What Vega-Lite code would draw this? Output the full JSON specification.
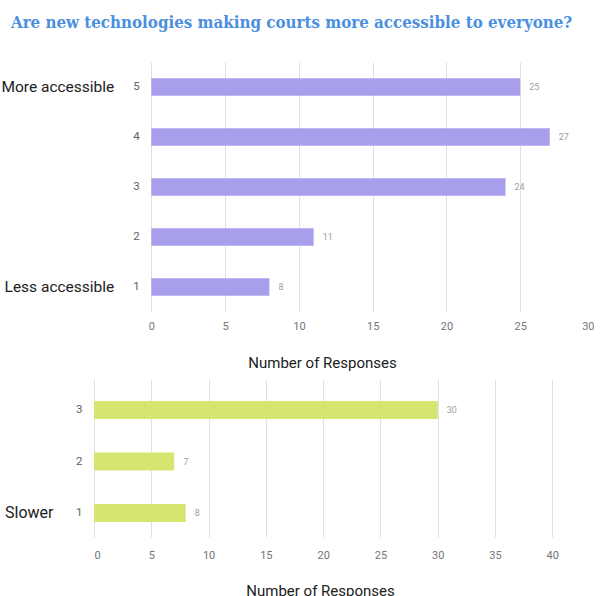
{
  "$schema": "https://vega.github.io/schema/vega-lite/v6.json",
  "background": "white",
  "padding": {"top": 15, "left": 0, "right": 0, "bottom": 0},
  "title": {
    "text": "Are new technologies making courts more accessible to everyone?",
    "anchor": "start",
    "dx": 10,
    "font": "DejaVu Serif Condensed",
    "fontWeight": "bold",
    "fontSize": 16.8,
    "color": "#4a8fe0",
    "offset": 30
  },
  "config": {
    "view": {"stroke": null},
    "axis": {"labelFont": "Roboto", "titleFont": "Roboto"},
    "text": {"font": "Roboto"}
  },
  "spacing": 9,
  "vconcat": [
    {
      "width": 500,
      "height": 250,
      "data": {"values": [
        {"rating": "5", "count": 25},
        {"rating": "4", "count": 27},
        {"rating": "3", "count": 24},
        {"rating": "2", "count": 11},
        {"rating": "1", "count": 8}
      ]},
      "encoding": {
        "x": {
          "field": "count", "type": "quantitative",
          "scale": {"domain": [-3.886, 30], "nice": false},
          "axis": {
            "values": [0, 5, 10, 15, 20, 25, 30],
            "grid": true, "gridColor": "#e0e0e0", "domain": false, "ticks": false,
            "labelPadding": 8, "labelColor": "#757575", "labelFontSize": 11,
            "title": "Number of Responses", "titleFontSize": 15, "titleFontWeight": "normal",
            "titleColor": "#212121", "titleX": 228, "titleY": 50, "titleBaseline": "middle"
          }
        },
        "x2": {"datum": 0},
        "y": {
          "field": "rating", "type": "nominal", "sort": ["5", "4", "3", "2", "1"],
          "scale": {"paddingInner": 0.65, "paddingOuter": 0.325},
          "axis": {
            "orient": "left", "offset": -57.3, "labelPadding": 12, "ticks": false, "domain": false,
            "title": null, "labelColor": "#616161", "labelFontSize": 11.5
          }
        }
      },
      "layer": [
        {"mark": {"type": "bar", "color": "#a89fec"}},
        {
          "mark": {"type": "text", "align": "left", "dx": 9, "fontSize": 9, "color": "#9e9e9e"},
          "encoding": {
            "x2": null,
            "text": {"field": "count", "type": "quantitative"},
            "y": {
              "field": "rating", "type": "nominal", "sort": ["5", "4", "3", "2", "1"],
              "axis": {
                "orient": "left", "offset": -57.3, "labelPadding": 37.5, "ticks": false, "domain": false,
                "title": null, "labelColor": "#212121", "labelFontSize": 15.5,
                "labelExpr": "datum.value == '5' ? 'More accessible' : datum.value == '1' ? 'Less accessible' : ''"
              }
            }
          }
        }
      ],
      "resolve": {"axis": {"y": "independent"}}
    },
    {
      "width": 500,
      "height": 158,
      "data": {"values": [
        {"rating": "3", "count": 30},
        {"rating": "2", "count": 7},
        {"rating": "1", "count": 8}
      ]},
      "encoding": {
        "x": {
          "field": "count", "type": "quantitative",
          "scale": {"domain": [0, 43.64], "nice": false},
          "axis": {
            "values": [0, 5, 10, 15, 20, 25, 30, 35, 40],
            "grid": true, "gridColor": "#e0e0e0", "domain": false, "ticks": false,
            "labelPadding": 12, "labelColor": "#757575", "labelFontSize": 11,
            "title": "Number of Responses", "titleFontSize": 15, "titleFontWeight": "normal",
            "titleColor": "#212121", "titleX": 226, "titleY": 53, "titleBaseline": "middle"
          }
        },
        "x2": {"datum": 0},
        "y": {
          "field": "rating", "type": "nominal", "sort": ["3", "2", "1"],
          "scale": {"paddingInner": 0.65, "paddingOuter": 0.359, "align": 0.595},
          "axis": {
            "orient": "left", "labelPadding": 12, "ticks": false, "domain": false,
            "title": null, "labelColor": "#616161", "labelFontSize": 11.5
          }
        }
      },
      "layer": [
        {"mark": {"type": "bar", "color": "#d5e570"}},
        {
          "mark": {"type": "text", "align": "left", "dx": 9, "fontSize": 9, "color": "#9e9e9e"},
          "encoding": {
            "x2": null,
            "text": {"field": "count", "type": "quantitative"},
            "y": {
              "field": "rating", "type": "nominal", "sort": ["3", "2", "1"],
              "axis": {
                "orient": "left", "labelPadding": 41, "ticks": false, "domain": false,
                "title": null, "labelColor": "#212121", "labelFontSize": 16,
                "labelExpr": "datum.value == '1' ? 'Slower' : ''"
              }
            }
          }
        }
      ],
      "resolve": {"axis": {"y": "independent"}}
    }
  ]
}
